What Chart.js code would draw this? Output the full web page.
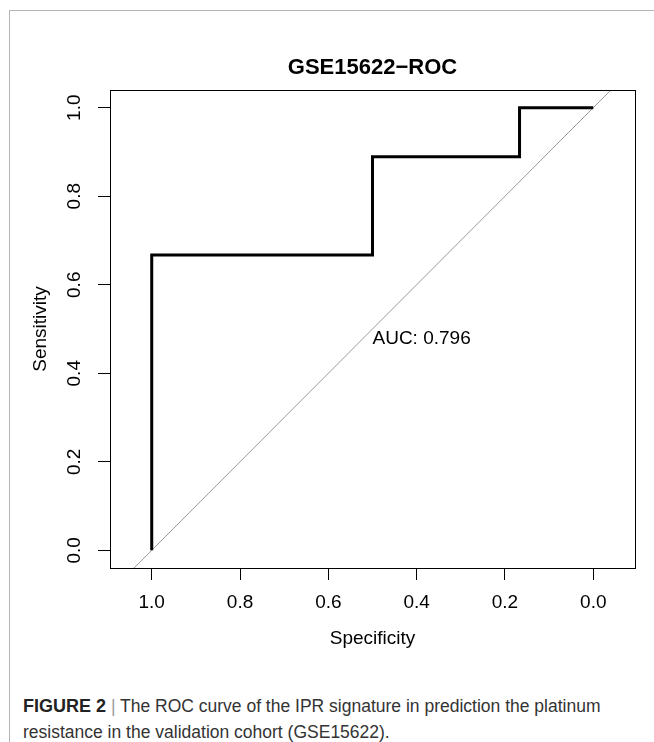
<!DOCTYPE html>
<html>
<head>
<meta charset="utf-8">
<script src="https://cdn.jsdelivr.net/npm/chart.js@4/dist/chart.umd.min.js"></script>
<style>
  html, body { margin: 0; padding: 0; background: #fff; }
  #wrap { position: relative; width: 654px; height: 742px; overflow: hidden; background: #fff; }
  #frame { position: absolute; left: 9px; top: 10px; width: 660px; height: 740px;
           border-top: 1px solid #b4b4b4; border-left: 1px solid #b4b4b4; }
  #c { position: absolute; left: 0; top: 0; }
  .cap { position: absolute; left: 23px; font-family: 'Liberation Sans', Arial, sans-serif;
         font-size: 17.5px; color: #333; white-space: nowrap; line-height: 26px; }
  .cap b { color: #222; font-size: 18px; }
  .cap .bar { color: #999; }
</style>
</head>
<body>
<div id="wrap">
  <div id="frame"></div>
  <canvas id="c" width="654" height="690"></canvas>
  <div class="cap" id="cap1" style="top:693px"><b>FIGURE 2</b> <span class="bar">|</span> The ROC curve of the IPR signature in prediction the platinum</div>
  <div class="cap" id="cap2" style="top:719px">resistance in the validation cohort (GSE15622).</div>
</div>
<script>
// ---- data ----
const chartTitle = "GSE15622\u2212ROC";
const specificity = [1.0, 1.0, 0.5, 0.5, 0.167, 0.167, 0.0];
const sensitivity = [0.0, 0.667, 0.667, 0.889, 0.889, 1.0, 1.0];
const xTickValues = [1.0, 0.8, 0.6, 0.4, 0.2, 0.0];
const xTickLabels = ["1.0", "0.8", "0.6", "0.4", "0.2", "0.0"];
const yTickValues = [0.0, 0.2, 0.4, 0.6, 0.8, 1.0];
const yTickLabels = ["0.0", "0.2", "0.4", "0.6", "0.8", "1.0"];
const aucText = "AUC: 0.796";
const aucAt = [0.5, 0.5];
const xLimits = [-0.0945, 1.0945];
const yLimits = [-0.04, 1.04];

const FONT = "'Liberation Sans', Arial, Helvetica, sans-serif";
Chart.defaults.font.family = FONT;
Chart.defaults.color = '#000';

const rocPoints = specificity.map((s, i) => ({ x: s, y: sensitivity[i] }));
// reference line sensitivity = 1 - specificity, spanning the y range
const diagPoints = [
  { x: 1 - yLimits[0], y: yLimits[0] },
  { x: 1 - yLimits[1], y: yLimits[1] }
];

const rPlugin = {
  id: 'rstyle',
  afterDraw(chart) {
    const { ctx, chartArea: a, scales } = chart;
    const xs = scales.x, ys = scales.y;
    ctx.save();
    ctx.strokeStyle = '#000';
    ctx.lineWidth = 1;
    ctx.strokeRect(Math.round(a.left) + 0.5, Math.round(a.top) + 0.5,
                   Math.round(a.right - a.left), Math.round(a.bottom - a.top));
    ctx.fillStyle = '#000';
    ctx.font = '19px ' + FONT;
    ctx.textAlign = 'center';
    ctx.textBaseline = 'middle';
    yTickValues.forEach((v, i) => {
      const py = ys.getPixelForValue(v);
      ctx.save();
      ctx.translate(a.left - 35, py);
      ctx.rotate(-Math.PI / 2);
      ctx.fillText(yTickLabels[i], 0, 0);
      ctx.restore();
    });
    ctx.textAlign = 'left';
    ctx.textBaseline = 'alphabetic';
    ctx.fillText(aucText, xs.getPixelForValue(aucAt[0]), ys.getPixelForValue(aucAt[1]) + 15);
    ctx.restore();
  }
};

new Chart(document.getElementById('c'), {
  type: 'scatter',
  data: {
    datasets: [
      { data: diagPoints, showLine: true, borderColor: '#9a9a9a', borderWidth: 1,
        pointRadius: 0, tension: 0, order: 2 },
      { data: rocPoints, showLine: true, borderColor: '#000', borderWidth: 3,
        pointRadius: 0, tension: 0, order: 1, borderJoinStyle: 'miter' }
    ]
  },
  plugins: [rPlugin],
  options: {
    responsive: false,
    animation: false,
    events: [],
    layout: { padding: { left: 0, right: 19, top: 0, bottom: 0 } },
    plugins: {
      legend: { display: false },
      tooltip: { enabled: false },
      title: {
        display: true, text: chartTitle, fullSize: false, color: '#000',
        font: { size: 22, weight: 'bold', lineHeight: 1.2 },
        padding: { top: 55, bottom: 8.6 }
      }
    },
    scales: {
      x: {
        type: 'linear', reverse: true, min: xLimits[0], max: xLimits[1],
        afterBuildTicks: s => { s.ticks = xTickValues.map(v => ({ value: v })); },
        afterFit: s => { s.height = 122; },
        ticks: {
          autoSkip: false, maxRotation: 0, minRotation: 0, padding: 11,
          font: { size: 19 }, color: '#000',
          callback: (v) => { const i = xTickValues.indexOf(v); return i >= 0 ? xTickLabels[i] : ''; }
        },
        grid: { display: true, drawOnChartArea: false, drawTicks: true, tickLength: 12,
                color: '#000', tickColor: '#000', lineWidth: 1 },
        border: { display: false },
        title: { display: true, text: 'Specificity', color: '#000', font: { size: 19, lineHeight: 1.2 },
                 padding: { top: 0, bottom: 40 } }
      },
      y: {
        type: 'linear', min: yLimits[0], max: yLimits[1],
        afterBuildTicks: s => { s.ticks = yTickValues.map(v => ({ value: v })); },
        afterFit: s => { s.width = 110; },
        ticks: { display: false },
        grid: { display: true, drawOnChartArea: false, drawTicks: true, tickLength: 12,
                color: '#000', tickColor: '#000', lineWidth: 1 },
        border: { display: false },
        title: { display: true, text: 'Sensitivity', color: '#000', font: { size: 19, lineHeight: 1.2 },
                 padding: { top: 29.5, bottom: 0 } }
      }
    }
  }
});
</script>
</body>
</html>
